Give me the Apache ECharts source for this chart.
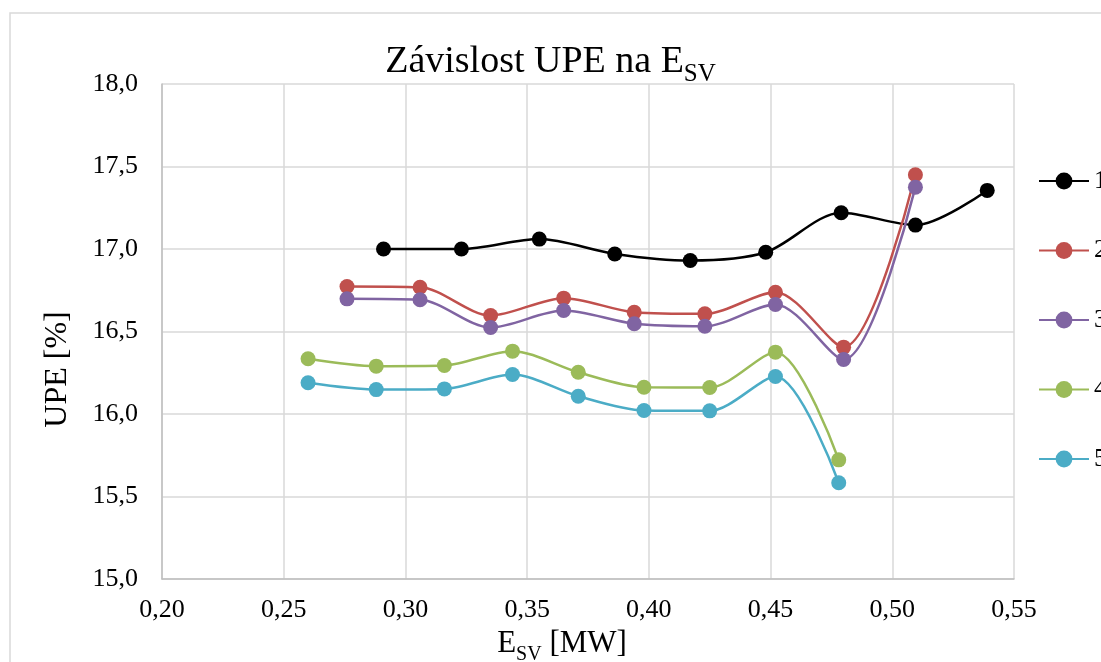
<!DOCTYPE html>
<html>
<head>
<meta charset="utf-8">
<script src="https://cdn.jsdelivr.net/npm/echarts@6.0.0/dist/echarts.min.js"></script>
<style>
  html, body { margin: 0; padding: 0; background: #fff; }
  #chart { width: 1101px; height: 662px; }
</style>
</head>
<body>
<div id="chart"></div>
<script>
// series names shown in the legend
const names = ['1', '2', '3', '4', '5'];
const colors = ['#000000', '#C0504D', '#8064A2', '#9BBB59', '#4BACC6'];

// E_SV [MW] and UPE [%]
const x1 = [0.291, 0.323, 0.355, 0.386, 0.417, 0.448, 0.479, 0.5095, 0.539];
const y1 = [17.00, 17.00, 17.06, 16.97, 16.93, 16.98, 17.22, 17.145, 17.355];

const x2 = [0.276, 0.306, 0.335, 0.365, 0.394, 0.423, 0.452, 0.480, 0.5095];
const y2 = [16.773, 16.768, 16.597, 16.702, 16.617, 16.607, 16.738, 16.405, 17.45];

const x3 = [0.276, 0.306, 0.335, 0.365, 0.394, 0.423, 0.452, 0.480, 0.5095];
const y3 = [16.698, 16.692, 16.524, 16.627, 16.547, 16.532, 16.664, 16.330, 17.375];

const x4 = [0.260, 0.288, 0.316, 0.344, 0.371, 0.398, 0.425, 0.452, 0.478];
const y4 = [16.335, 16.290, 16.294, 16.381, 16.253, 16.162, 16.161, 16.375, 15.722];

const x5 = [0.260, 0.288, 0.316, 0.344, 0.371, 0.398, 0.425, 0.452, 0.478];
const y5 = [16.189, 16.148, 16.152, 16.239, 16.108, 16.021, 16.019, 16.227, 15.583];

const xs = [x1, x2, x3, x4, x5];
const ys = [y1, y2, y3, y4, y5];

const serif = 'Liberation Serif';
const comma = (v, d) => v.toFixed(d).replace('.', ',');

const chart = echarts.init(document.getElementById('chart'));

const option = {
  animation: false,
  color: colors,
  graphic: [{
    type: 'rect',
    silent: true,
    shape: { x: 10, y: 13, width: 1200, height: 700 },
    style: { fill: 'none', stroke: '#d9d9d9', lineWidth: 1.5 }
  }],
  title: {
    text: '{a|Závislost UPE na E}{b|SV}',
    left: 'center',
    top: 32,
    textStyle: {
      rich: {
        a: { fontFamily: serif, fontSize: 38, fontWeight: 'normal', color: '#000', lineHeight: 40 },
        b: { fontFamily: serif, fontSize: 25, fontWeight: 'normal', color: '#000', lineHeight: 50, verticalAlign: 'bottom' }
      }
    }
  },
  legend: {
    data: names,
    orient: 'vertical',
    left: 1033,
    top: 163,
    itemWidth: 50,
    itemHeight: 21,
    itemGap: 43.5,
    textStyle: { fontFamily: serif, fontSize: 26, color: '#000' }
  },
  grid: { left: 162, right: 87, top: 84, bottom: 83, containLabel: false, outerBoundsMode: 'none' },
  xAxis: {
    type: 'value',
    min: 0.2,
    max: 0.55,
    interval: 0.05,
    name: '{a|E}{b|SV}{a| [MW]}',
    nameLocation: 'middle',
    nameGap: 44,
    nameTextStyle: {
      padding: [0, 52, 0, 0],
      rich: {
        a: { fontFamily: serif, fontSize: 31, color: '#000', lineHeight: 34 },
        b: { fontFamily: serif, fontSize: 20, color: '#000', lineHeight: 42, verticalAlign: 'bottom' }
      }
    },
    axisLine: { lineStyle: { color: '#bfbfbf', width: 1.5 } },
    axisTick: { show: false },
    axisLabel: {
      margin: 18,
      fontFamily: serif, fontSize: 26, color: '#000',
      formatter: v => comma(v, 2)
    },
    splitLine: { lineStyle: { color: '#d9d9d9', width: 1.5 } }
  },
  yAxis: {
    type: 'value',
    min: 15,
    max: 18,
    interval: 0.5,
    name: 'UPE [%]',
    nameLocation: 'middle',
    nameRotate: 90,
    nameGap: 88,
    nameTextStyle: { fontFamily: serif, fontSize: 32, color: '#000', padding: [0, 76, 0, 0] },
    axisLine: { show: true, lineStyle: { color: '#bfbfbf', width: 1.5 } },
    axisTick: { show: false },
    axisLabel: {
      margin: 24,
      fontFamily: serif, fontSize: 26, color: '#000',
      formatter: v => comma(v, 1)
    },
    splitLine: { lineStyle: { color: '#d9d9d9', width: 1.5 } }
  },
  series: names.map((n, i) => ({
    name: n,
    type: 'line',
    smooth: 0.3,
    symbol: 'circle',
    symbolSize: 15,
    lineStyle: { width: 2.5, color: colors[i] },
    itemStyle: { color: colors[i] },
    data: xs[i].map((x, k) => [x, ys[i][k]])
  }))
};

chart.setOption(option);
</script>
</body>
</html>
